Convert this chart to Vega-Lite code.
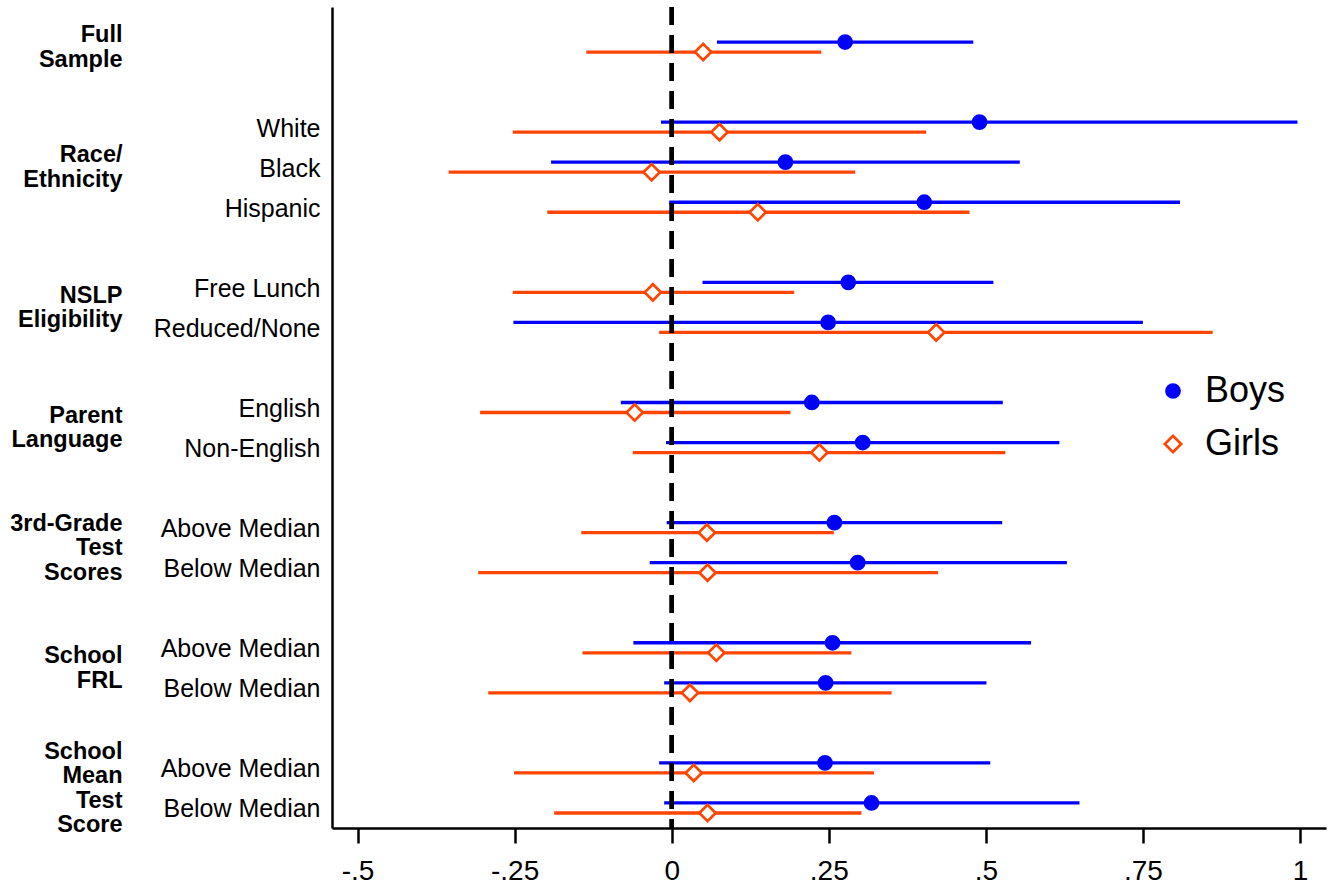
{
  "$schema": "https://vega.github.io/schema/vega-lite/v6.json",
  "width": 994,
  "height": 821,
  "autosize": {"type": "none"},
  "padding": {"left": 332, "top": 7, "right": 7, "bottom": 62},
  "background": "white",
  "config": {
    "font": "Liberation Sans",
    "view": {"stroke": null},
    "axis": {"grid": false, "title": null, "labelColor": "black", "labelFont": "Liberation Sans"},
    "legend": {
      "labelFontSize": 36,
      "labelFont": "Liberation Sans",
      "labelColor": "black",
      "labelOffset": 14,
      "rowPadding": 17,
      "symbolStrokeWidth": 2.7
    }
  },
  "data": {
    "values": [
      {"row": "Full|", "sex": "Boys", "est": 0.276, "lo": 0.072, "hi": 0.480},
      {"row": "Full|", "sex": "Girls", "est": 0.050, "lo": -0.136, "hi": 0.238},
      {"row": "Race|White", "sex": "Boys", "est": 0.490, "lo": -0.017, "hi": 0.996},
      {"row": "Race|White", "sex": "Girls", "est": 0.076, "lo": -0.253, "hi": 0.405},
      {"row": "Race|Black", "sex": "Boys", "est": 0.181, "lo": -0.192, "hi": 0.554},
      {"row": "Race|Black", "sex": "Girls", "est": -0.032, "lo": -0.355, "hi": 0.292},
      {"row": "Race|Hispanic", "sex": "Boys", "est": 0.402, "lo": -0.004, "hi": 0.809},
      {"row": "Race|Hispanic", "sex": "Girls", "est": 0.137, "lo": -0.198, "hi": 0.474},
      {"row": "NSLP|Free Lunch", "sex": "Boys", "est": 0.281, "lo": 0.049, "hi": 0.512},
      {"row": "NSLP|Free Lunch", "sex": "Girls", "est": -0.030, "lo": -0.253, "hi": 0.195},
      {"row": "NSLP|Reduced/None", "sex": "Boys", "est": 0.249, "lo": -0.252, "hi": 0.750},
      {"row": "NSLP|Reduced/None", "sex": "Girls", "est": 0.421, "lo": -0.020, "hi": 0.861},
      {"row": "Lang|English", "sex": "Boys", "est": 0.223, "lo": -0.081, "hi": 0.527},
      {"row": "Lang|English", "sex": "Girls", "est": -0.059, "lo": -0.305, "hi": 0.189},
      {"row": "Lang|Non-English", "sex": "Boys", "est": 0.304, "lo": -0.009, "hi": 0.617},
      {"row": "Lang|Non-English", "sex": "Girls", "est": 0.235, "lo": -0.062, "hi": 0.531},
      {"row": "Test|Above Median", "sex": "Boys", "est": 0.259, "lo": -0.008, "hi": 0.526},
      {"row": "Test|Above Median", "sex": "Girls", "est": 0.056, "lo": -0.144, "hi": 0.258},
      {"row": "Test|Below Median", "sex": "Boys", "est": 0.296, "lo": -0.035, "hi": 0.629},
      {"row": "Test|Below Median", "sex": "Girls", "est": 0.057, "lo": -0.308, "hi": 0.424},
      {"row": "FRL|Above Median", "sex": "Boys", "est": 0.256, "lo": -0.061, "hi": 0.572},
      {"row": "FRL|Above Median", "sex": "Girls", "est": 0.071, "lo": -0.142, "hi": 0.286},
      {"row": "FRL|Below Median", "sex": "Boys", "est": 0.245, "lo": -0.012, "hi": 0.501},
      {"row": "FRL|Below Median", "sex": "Girls", "est": 0.029, "lo": -0.292, "hi": 0.350},
      {"row": "Mean|Above Median", "sex": "Boys", "est": 0.244, "lo": -0.020, "hi": 0.507},
      {"row": "Mean|Above Median", "sex": "Girls", "est": 0.035, "lo": -0.251, "hi": 0.322},
      {"row": "Mean|Below Median", "sex": "Boys", "est": 0.318, "lo": -0.012, "hi": 0.649},
      {"row": "Mean|Below Median", "sex": "Girls", "est": 0.057, "lo": -0.187, "hi": 0.302}
    ]
  },
  "layer": [
    {
      "layer": [
        {
          "mark": {"type": "rule", "strokeWidth": 3.3},
          "encoding": {
            "y": {
              "field": "row", "type": "nominal",
              "scale": {
                "domain": ["Full|", "g1", "Race|White", "Race|Black", "Race|Hispanic", "g2", "NSLP|Free Lunch", "NSLP|Reduced/None", "g3", "Lang|English", "Lang|Non-English", "g4", "Test|Above Median", "Test|Below Median", "g5", "FRL|Above Median", "FRL|Below Median", "g6", "Mean|Above Median", "Mean|Below Median"],
                "paddingInner": 0, "paddingOuter": 0.25, "align": 1
              },
              "axis": {
                "orient": "left",
                "labelExpr": "indexof(datum.value, '|') >= 0 ? slice(datum.value, indexof(datum.value, '|') + 1) : ''",
                "ticks": false,
                "domain": true, "domainColor": "black", "domainWidth": 2.5,
                "labelFontSize": 25, "labelPadding": 12, "labelBaseline": "middle", "labelOffset": 1.5
              }
            },
            "yOffset": {"field": "sex", "type": "nominal", "scale": {"type": "band", "domain": ["Boys", "Girls"], "paddingInner": 0, "paddingOuter": 1}},
            "x": {
              "field": "lo", "type": "quantitative",
              "scale": {"domain": [-0.5407, 1.0414], "nice": false, "zero": false},
              "axis": {
                "values": [-0.5, -0.25, 0, 0.25, 0.5, 0.75, 1],
                "labelExpr": "replace(toString(datum.value), '0.', '.')",
                "domainColor": "black", "domainWidth": 2.5,
                "tickColor": "black", "tickWidth": 2.5, "tickSize": 15,
                "labelFontSize": 28, "labelPadding": 14
              }
            },
            "x2": {"field": "hi"},
            "stroke": {"field": "sex", "type": "nominal", "title": null}
          }
        },
        {
          "mark": {"type": "rule", "strokeWidth": 3.5, "strokeDash": [18, 10], "color": "black"},
          "encoding": {"x": {"datum": 0, "type": "quantitative"}}
        },
        {
          "mark": {"type": "point", "filled": true, "strokeWidth": 2.7, "opacity": 1},
          "encoding": {
            "y": {"field": "row", "type": "nominal"},
            "yOffset": {"field": "sex", "type": "nominal"},
            "x": {"field": "est", "type": "quantitative"},
            "stroke": {"field": "sex", "type": "nominal", "title": null, "scale": {"domain": ["Boys", "Girls"], "range": ["#0000ff", "#ff4500"]}, "legend": {"orient": "none", "legendX": 823, "legendY": 366, "title": null}},
            "fill": {"field": "sex", "type": "nominal", "title": null, "scale": {"domain": ["Boys", "Girls"], "range": ["#0000ff", "white"]}},
            "shape": {"field": "sex", "type": "nominal", "title": null, "scale": {"domain": ["Boys", "Girls"], "range": ["circle", "diamond"]}},
            "size": {"field": "sex", "type": "nominal", "title": null, "scale": {"domain": ["Boys", "Girls"], "range": [170, 265]}}
          }
        }
      ]
    },
    {
      "mark": {"type": "point", "opacity": 0},
      "encoding": {
        "y": {
          "datum": 0, "type": "quantitative",
          "scale": {"domain": [-1, 19.5], "reverse": true, "nice": false, "zero": false},
          "axis": {
            "orient": "left",
            "values": [-0.306, 2.694, 6.194, 9.194, 11.888, 15.194, 17.582],
            "labelExpr": "datum.value < 1 ? ['Full', 'Sample'] : datum.value < 4 ? ['Race/', 'Ethnicity'] : datum.value < 7 ? ['NSLP', 'Eligibility'] : datum.value < 10 ? ['Parent', 'Language'] : datum.value < 13 ? ['3rd-Grade', 'Test', 'Scores'] : datum.value < 16 ? ['School', 'FRL'] : ['School', 'Mean', 'Test', 'Score']",
            "ticks": false, "domain": false,
            "labelFontSize": 23.5, "labelFontWeight": "bold", "labelLineHeight": 24.5,
            "labelPadding": 210, "labelOverlap": false, "labelBaseline": "middle", "labelAlign": "right"
          }
        }
      }
    }
  ],
  "resolve": {"scale": {"y": "independent"}, "axis": {"y": "independent"}}
}
